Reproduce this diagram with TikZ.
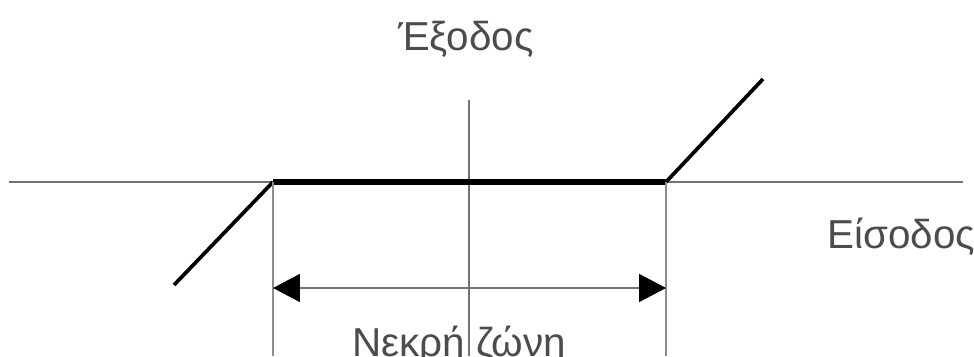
\documentclass[tikz,border=0pt]{standalone}
\usepackage{fontspec}
\setmainfont{Liberation Sans}
\usepackage{xcolor}
\usepackage{tikz}
\usetikzlibrary{arrows.meta,positioning}

\begin{document}
\begin{tikzpicture}[
    x=0.02cm, y=-0.02cm,
    axis/.style={draw=black!55, line width=1.2pt},
    guide/.style={draw=black!45, line width=1.2pt},
    zone/.style={draw=black, line width=3pt},
    slope/.style={draw=black, line width=2.1pt},
    dimarr/.style={draw=black!55, line width=1.1pt,
        {Triangle[length=0.54cm, width=0.56cm, color=black, fill=black]}-{Triangle[length=0.54cm, width=0.56cm, color=black, fill=black]}},
    lbl/.style={font=\fontsize{23}{27}\selectfont, text=black!70, inner sep=0pt},
]
\useasboundingbox (0,0) rectangle (974,356);

% === AXES ===
\coordinate (xl) at (9,182);
\coordinate (xr) at (963,182);
\coordinate (yt) at (469,100);
\coordinate (yb) at (469,356);
\draw[axis] (xl) -- (xr);
\draw[axis] (yt) -- (yb);

% === CHARACTERISTIC ===
\coordinate (dzl) at (273,182);
\coordinate (dzr) at (666,182);
\coordinate (sl) at (174,285);
\coordinate (sr) at (763,79);
\draw[slope] (sl) -- (dzl);
\draw[slope] (dzr) -- (sr);
\draw[zone] (dzl) -- (dzr);

% === DEAD ZONE WIDTH ===
\coordinate (gl) at (273,356);
\coordinate (gr) at (666,356);
\draw[guide] (dzl) -- (gl);
\draw[guide] (dzr) -- (gr);
\coordinate (al) at (273,288);
\coordinate (ar) at (666,288);
\draw[dimarr] (al) -- (ar);

% === LABELS ===
\node[lbl, anchor=base] (out) at (466,50) {Έξοδος};
\node[lbl, anchor=base west] (in) at (827,248) {Είσοδος};
\node[lbl, anchor=base] (dz) at (459,356) {Νεκρή ζώνη};

\end{tikzpicture}
\end{document}
